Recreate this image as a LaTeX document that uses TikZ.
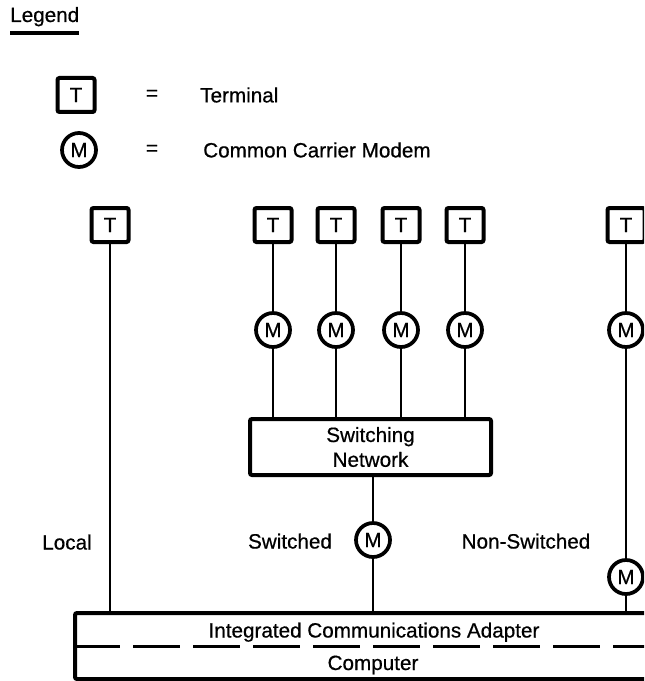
\documentclass[tikz,border=0pt]{standalone}
\usepackage{fontspec}
\setmainfont{Liberation Sans}[FakeBold=0.6]
\begin{document}
\begin{tikzpicture}[x=0.75pt,y=-0.75pt,
  every node/.style={font=\fontsize{15.5}{18.6}\selectfont, inner sep=0pt},
  term/.style={draw, line width=3pt, rectangle, rounded corners=1.5pt, minimum width=27.75pt, minimum height=25.5pt},
  modem/.style={draw, circle, line width=2.8pt, minimum size=25.5pt},
  link/.style={line width=1.5pt},
  thickbox/.style={draw, line width=3pt, rectangle, rounded corners=1.5pt}]
\useasboundingbox (0,0) rectangle (644,681);
\clip (0,0) rectangle (644,681);

% Legend
\node[anchor=base west] (lg) at (10,22) {Legend};
\draw[line width=2.4pt] ([yshift=-8.25pt]lg.base west) -- ([yshift=-8.25pt]lg.base east);
\node[term] (lt) at (76,95) {T};
\node[modem] (lm) at (79,150) {M};
\node (eq1) at (152,95) {=};
\node (eq2) at (152,150) {=};
\node[anchor=west] (lt1) at (200,95) {Terminal};
\node[anchor=west] (lm1) at (203,150) {Common Carrier Modem};

% Terminals
\node[term] (tl) at (110,225) {T};
\node[term] (t1) at (273,225) {T};
\node[term] (t2) at (336,225) {T};
\node[term] (t3) at (401,225) {T};
\node[term] (t4) at (465,225) {T};
\node[term] (tr) at (626,225) {T};

% Modems
\node[modem] (m1) at (273,330) {M};
\node[modem] (m2) at (336,330) {M};
\node[modem] (m3) at (401,330) {M};
\node[modem] (m4) at (465,330) {M};
\node[modem] (mr1) at (626,330) {M};
\node[modem] (ms) at (373,540) {M};
\node[modem] (mr2) at (626,577) {M};

% Switching network
\node[thickbox, minimum width=180.75pt, minimum height=42pt, align=center] (sw) at (370.5,447) {Switching\\Network};

% Computer
\node[thickbox, minimum width=438.75pt, minimum height=49.5pt] (comp) at (367.5,646) {};
\draw[line width=2.25pt, dash pattern=on 35pt off 10pt] (comp.west) -- (comp.east);
\node[anchor=base] (ica) at (374,637.5) {Integrated Communications Adapter};
\node[anchor=base] (cp) at (373,670) {Computer};

% Labels
\node[anchor=base] (ll) at (67,549.5) {Local};
\node[anchor=base] (ls) at (290,548.5) {Switched};
\node[anchor=base] (lns) at (526,548.5) {Non-Switched};

% Connectors
\draw[link] (tl) -- (tl |- comp.north);
\foreach \i in {1,2,3,4}{
  \draw[link] (t\i) -- (m\i);
  \draw[link] (m\i) -- (m\i |- sw.north);
}
\draw[link] (sw.south -| ms) -- (ms);
\draw[link] (ms) -- (ms |- comp.north);
\draw[link] (tr) -- (mr1);
\draw[link] (mr1) -- (mr2);
\draw[link] (mr2) -- (mr2 |- comp.north);
\end{tikzpicture}
\end{document}
